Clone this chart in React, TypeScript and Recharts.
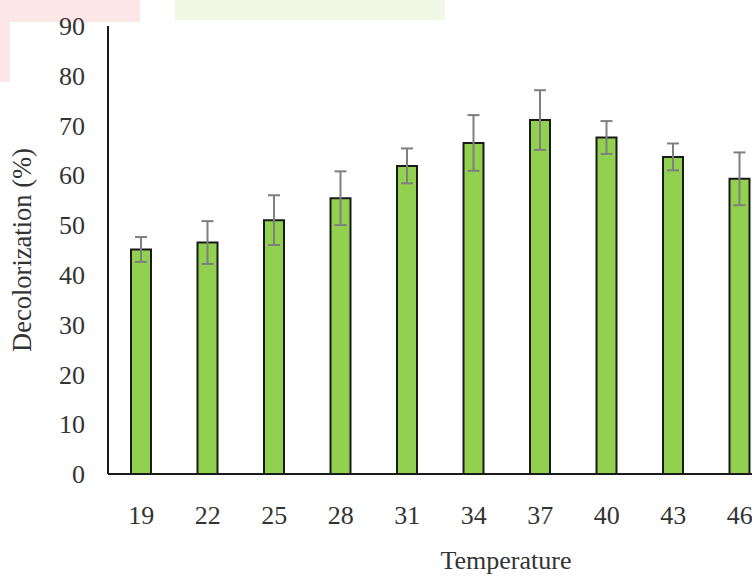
import { BarChart, Bar, XAxis, YAxis, ErrorBar, Label } from "recharts";

// temperatures (°C) on the x axis
const temperatures = ["19", "22", "25", "28", "31", "34", "37", "40", "43", "46"];
// mean decolorization (%)
const decolorization = [45.1, 46.5, 51.0, 55.4, 61.9, 66.5, 71.1, 67.6, 63.7, 59.3];
// standard deviation
const deviations = [2.5, 4.3, 5.0, 5.4, 3.5, 5.6, 6.0, 3.3, 2.7, 5.3];
const yTicks = [0, 10, 20, 30, 40, 50, 60, 70, 80, 90];

const FONT = '"Liberation Serif", "Times New Roman", serif';
const TEXT = "#333333";

const XTick = ({ x, y, payload }: any) => (
  <text x={x} y={y} dy="0.35em" textAnchor="middle" fontFamily={FONT} fontSize={26} fill={TEXT}>
    {payload.value}
  </text>
);

const YTick = ({ x, y, payload }: any) => (
  <text x={x} y={y} dy="0.35em" textAnchor="end" fontFamily={FONT} fontSize={26} fill={TEXT}>
    {payload.value}
  </text>
);

const App = () => {
  const data = temperatures.map((t, i) => ({
    temp: t,
    value: decolorization[i],
    err: deviations[i],
  }));

  return (
    <div
      style={{
        position: "fixed",
        left: 0,
        top: 0,
        width: 752,
        height: 577,
        overflow: "hidden",
        background: "#ffffff",
      }}
    >
      {/* faint watermark remnants along the top edge */}
      <div style={{ position: "absolute", left: 0, top: 0, width: 140, height: 22, background: "#fde6e6" }} />
      <div style={{ position: "absolute", left: 0, top: 22, width: 10, height: 60, background: "#fde6e6" }} />
      <div style={{ position: "absolute", left: 175, top: 0, width: 270, height: 20, background: "#f1f8e6" }} />
      <div style={{ position: "absolute", left: 0, top: 0 }}>
        <BarChart
          width={773}
          height={577}
          data={data}
          margin={{ top: 26, right: 0, bottom: 43, left: 0 }}
        >
          <XAxis
            dataKey="temp"
            height={60}
            interval={0}
            tickLine={false}
            tickSize={0}
            tickMargin={41}
            axisLine={{ stroke: "#1a1a1a", strokeWidth: 2 }}
            tick={<XTick />}
          >
            <Label
              content={() => (
                <text x={506} y={569} textAnchor="middle" fontFamily={FONT} fontSize={26} fill={TEXT}>
                  Temperature
                </text>
              )}
            />
          </XAxis>
          <YAxis
            width={108}
            domain={[0, 90]}
            ticks={yTicks}
            interval={0}
            tickLine={false}
            tickSize={0}
            tickMargin={23}
            axisLine={{ stroke: "#1a1a1a", strokeWidth: 2 }}
            tick={<YTick />}
          >
            <Label
              content={() => (
                <text
                  x={31}
                  y={250}
                  transform="rotate(-90, 31, 250)"
                  textAnchor="middle"
                  fontFamily={FONT}
                  fontSize={26.5}
                  fill={TEXT}
                >
                  Decolorization (%)
                </text>
              )}
            />
          </YAxis>
          <Bar
            dataKey="value"
            fill="#92d050"
            stroke="#1a1a1a"
            strokeWidth={2}
            barSize={20}
            isAnimationActive={false}
          >
            <ErrorBar
              dataKey="err"
              width={6}
              stroke="#7f7f7f"
              strokeWidth={2}
              isAnimationActive={false}
            />
          </Bar>
        </BarChart>
      </div>
    </div>
  );
};

export default App;
